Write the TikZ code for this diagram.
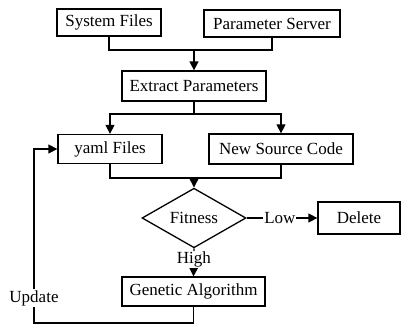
\documentclass[tikz,border=0pt]{standalone}
\usepackage{fontspec}
\setmainfont{Liberation Serif}
\usetikzlibrary{arrows.meta,shapes.geometric}
\begin{document}
\begin{tikzpicture}[x=1pt,y=-1pt,
  font=\fontsize{17}{20}\selectfont,
  every path/.style={line width=1.3pt},
  box/.style={draw, rectangle, inner sep=0pt, line width=1.3pt},
  decision/.style={draw, diamond, inner sep=0pt, line width=1.3pt},
  arr/.style={-{Triangle[length=9pt,width=9pt]}},
  lbl/.style={fill=white, inner sep=1pt}]
\useasboundingbox (0,0) rectangle (402,324);

% process boxes
\node[box, minimum width=104pt, minimum height=27pt] (sys) at (109,22.5) {System Files};
\node[box, minimum width=136pt, minimum height=27pt] (ps)  at (272,23.5) {Parameter Server};
\node[box, minimum width=144pt, minimum height=30pt] (ext) at (194,86) {Extract Parameters};
\node[box, minimum width=104pt, minimum height=29pt] (yaml) at (110,149) {yaml Files};
\node[box, minimum width=144pt, minimum height=30pt] (nsc) at (281,149) {New Source Code};
\node[decision, minimum width=104pt, minimum height=40pt] (fit) at (194,218) {Fitness};
\node[box, minimum width=82pt, minimum height=32pt] (del) at (359,218) {Delete};
\node[box, minimum width=143pt, minimum height=29pt] (ga) at (193.5,291.5) {Genetic Algorithm};

% junction points
\coordinate (j1) at (194,50);
\coordinate (j2) at (194,114);
\coordinate (j3) at (194,178);
\coordinate (fb) at (34,323);

% inputs merge into extraction
\draw (sys.south) |- (j1);
\draw (ps.south) |- (j1);
\draw[arr] (j1) -- (ext.north);

% extraction splits into two outputs
\draw (ext.south) -- (j2);
\draw[arr] (j2) -| (yaml.north);
\draw[arr] (j2) -| (nsc.north);

% outputs merge into evaluation
\draw (yaml.south) |- (j3);
\draw (nsc.south) |- (j3);
\draw[arr] (j3) -- (fit.north);

% decision branches
\draw[arr] (fit.east) -- node[lbl, pos=0.47] {Low} (del.west);
\draw[arr] (fit.south) -- node[lbl, pos=0.4] {High} (ga.north);

% feedback loop
\draw[arr] (ga.south) |- (fb) -- node[lbl, pos=0.144] {Update} (fb |- yaml.west) -- (yaml.west);
\end{tikzpicture}
\end{document}
